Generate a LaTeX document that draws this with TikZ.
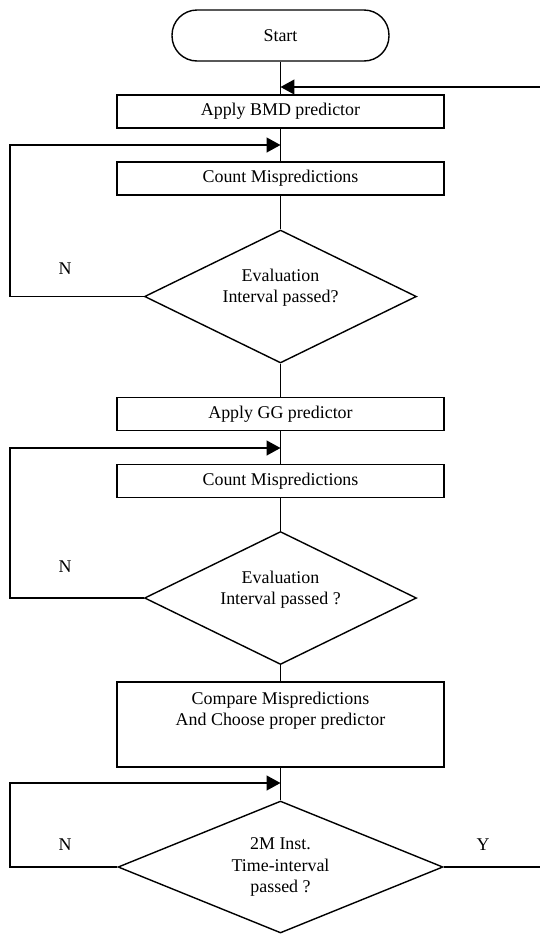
\documentclass[tikz,border=0pt]{standalone}
\usepackage{fontspec}
\setmainfont{Liberation Serif}
\usetikzlibrary{arrows.meta, shapes.geometric}
\tikzset{
  blk/.style={
    rectangle, draw=black, line width=0.8pt,
    minimum width=6.54cm, minimum height=0.66cm,
    align=center, fill=white, inner sep=0pt,
    font=\fontsize{10.2}{12}\selectfont
  },
  term/.style = {blk, rounded corners=0.5cm, minimum width=4.34cm, minimum height=1.02cm},
  dec/.style  = {
    diamond, aspect=2, draw=black, line width=0.8pt,
    minimum width=5.44cm, minimum height=2.66cm,
    align=center, fill=white, inner sep=0pt,
    font=\fontsize{10.2}{12}\selectfont
  },
  ln/.style   = {line width=0.8pt},
  arr/.style  = {-{Triangle[length=2.8mm, width=3mm]}, line width=0.8pt},
  lbl/.style  = {font=\fontsize{10.2}{12}\selectfont, inner sep=0pt},
}

\begin{document}
\begin{tikzpicture}[x=0.02cm, y=-0.02cm]
\useasboundingbox (0,0) rectangle (540,934);

%% ── Phase 1: BMD predictor ───────────────────────────────────────────────────
\node[term] (START) at (280.5,  35.5) {Start};
\node[blk]  (BMD)   at (280.5, 111.5) {Apply BMD predictor};
\node[blk]  (CNT1)  at (280.5, 178.5) {Count Mispredictions};
\node[dec, text depth=0.44cm] (DEC1) at (280.5, 296.5) {Evaluation\\Interval passed?};

%% ── Phase 2: GG predictor ────────────────────────────────────────────────────
\node[blk]  (GG)    at (280.5, 414) {Apply GG predictor};
\node[blk]  (CNT2)  at (280.5, 481) {Count Mispredictions};
\node[dec, text depth=0.4cm] (DEC2) at (280.5, 598) {Evaluation\\Interval passed ?};

%% ── Phase 3: compare and wait ────────────────────────────────────────────────
\node[blk, minimum height=1.7cm, text depth=0.64cm] (CMP) at (280.5, 724.5)
    {Compare Mispredictions\\And Choose proper predictor};
\node[dec, minimum width=6.5cm, minimum height=2.64cm] (DEC3) at (280.5, 867)
    {2M Inst.\\Time-interval\\passed ?};

%% ── Branch labels ────────────────────────────────────────────────────────────
\node[lbl] (N1) at ( 65, 269) {N};
\node[lbl] (N2) at ( 65, 567) {N};
\node[lbl] (N3) at ( 65, 845) {N};
\node[lbl] (Y3) at (483, 845) {Y};

%% ── Join points on the trunk and loop corners ───────────────────────────────
\coordinate (J0) at (280.5,  87);
\coordinate (J1) at (280.5, 145);
\coordinate (J2) at (280.5, 448);
\coordinate (J3) at (280.5, 783);
\coordinate (L1) at ( 10, 145);
\coordinate (L2) at ( 10, 448);
\coordinate (L3) at ( 10, 783);
\coordinate (RT) at (541,  87);

%% ── Trunk ────────────────────────────────────────────────────────────────────
\draw[ln] (START) -- (BMD);
\draw[ln] (BMD)   -- (CNT1);
\draw[ln] (CNT1)  -- (DEC1);
\draw[ln] (DEC1)  -- (GG);
\draw[ln] (GG)    -- (CNT2);
\draw[ln] (CNT2)  -- (DEC2);
\draw[ln] (DEC2)  -- (CMP);
\draw[ln] (CMP)   -- (DEC3);

%% ── N loops (left side) ──────────────────────────────────────────────────────
\draw[arr] (DEC1.west) -| (L1) -- (J1);
\draw[arr] (DEC2.west) -| (L2) -- (J2);
\draw[arr] (DEC3.west) -| (L3) -- (J3);

%% ── Y loop (right edge, back to the top) ────────────────────────────────────
\draw[arr] (DEC3.east) -| (RT) -- (J0);

\end{tikzpicture}
\end{document}
